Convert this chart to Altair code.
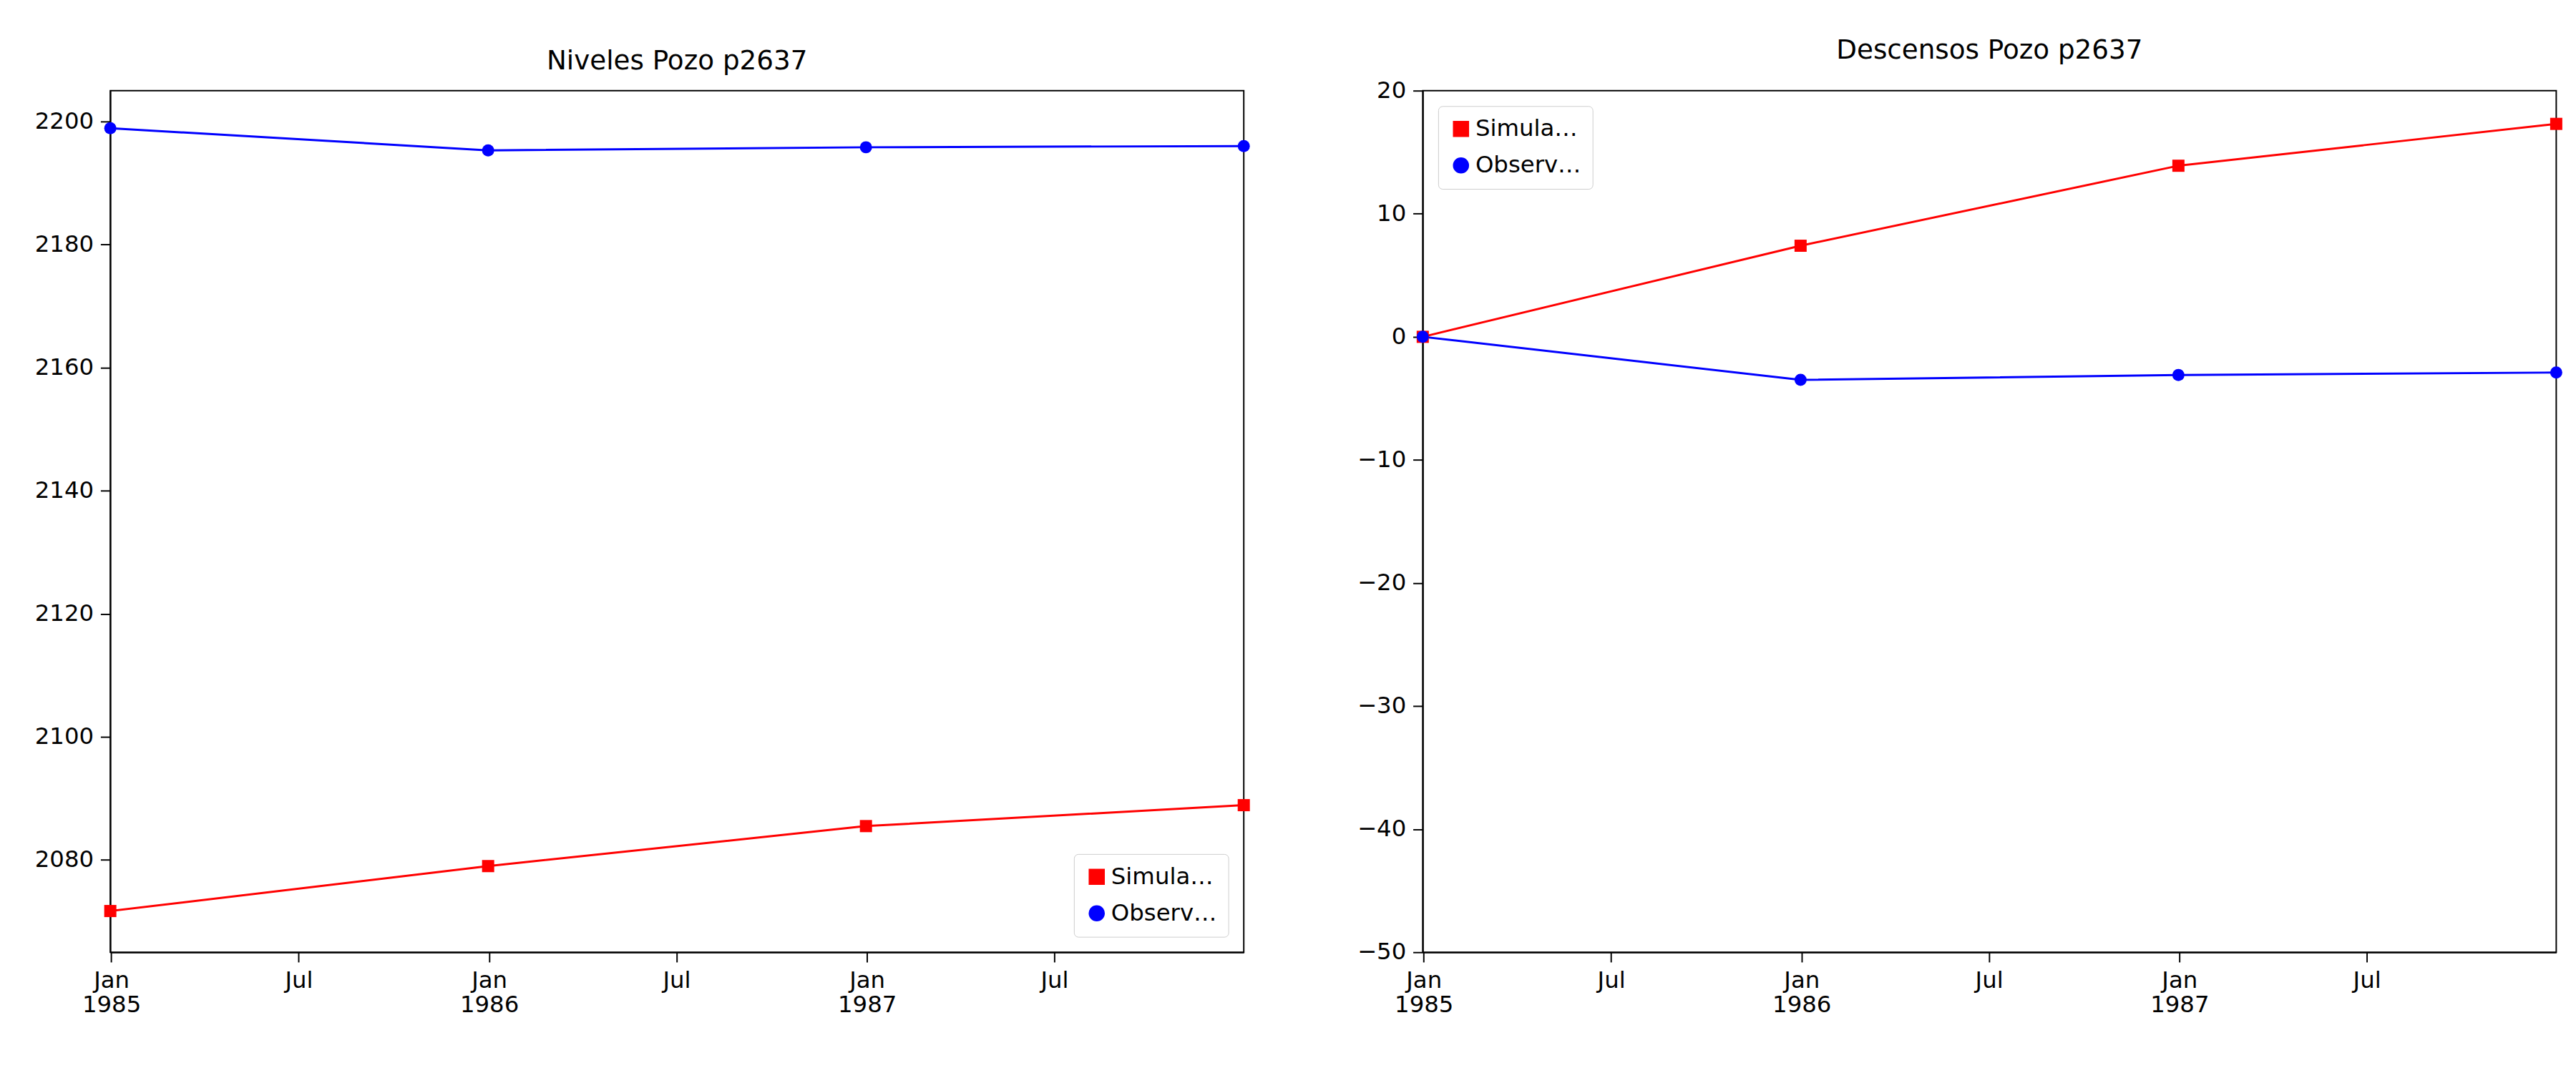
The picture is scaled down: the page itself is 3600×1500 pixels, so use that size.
import altair as alt
import pandas as pd

# ── data ─────────────────────────────────────────────────────────────
fechas = ["1984-12-31", "1985-12-31", "1986-12-31", "1987-12-31"]
niv_sim = [2071.7, 2079.0, 2085.5, 2088.9]
niv_obs = [2198.9, 2195.3, 2195.8, 2196.0]
des_sim = [0.0, 7.4, 13.9, 17.3]
des_obs = [0.0, -3.5, -3.1, -2.9]
series = ["Simulados", "Observados"]


def frame(sim, obs):
    rows = []
    for f, s, o in zip(fechas, sim, obs):
        rows.append({"fecha": f, "valor": s, "serie": "Simulados"})
        rows.append({"fecha": f, "valor": o, "serie": "Observados"})
    return pd.DataFrame(rows)


def dt(y, m, d):
    return alt.DateTime(year=y, month=m, date=d)


x_domain = [dt(1984, 12, 31), dt(1987, 12, 31)]
major = [dt(y, m, 1) for y in (1985, 1986, 1987) for m in (1, 7)]

FONT = "DejaVu Sans"
FS = 33
W, H = 1615, 1228


def panel(df, title, y_domain, y_ticks, legend_orient):
    color = alt.Color(
        "serie:N",
        scale=alt.Scale(domain=series, range=["red", "blue"]),
        legend=alt.Legend(
            title=None, orient=legend_orient, labelFontSize=FS, labelFont=FONT,
            symbolSize=400, symbolStrokeWidth=3, padding=16, rowPadding=18,
            strokeColor="#cccccc", fillColor="white", cornerRadius=6, offset=22,
        ),
    )
    shape = alt.Shape(
        "serie:N", scale=alt.Scale(domain=series, range=["square", "circle"]), legend=None
    )
    x = alt.X(
        "fecha:T",
        title=None,
        scale=alt.Scale(domain=x_domain),
        axis=alt.Axis(
            values=major, grid=False, labelFontSize=FS, labelFont=FONT,
            labelColor="black", tickColor="black", tickSize=14, tickWidth=2,
            domainColor="black", domainWidth=2, labelPadding=10, labelAlign="center",
            labelExpr="month(datum.value) == 0 ? ['Jan', '' + year(datum.value)] : 'Jul'",
        ),
    )
    y = alt.Y(
        "valor:Q",
        title=None,
        scale=alt.Scale(domain=y_domain, nice=False, zero=False),
        axis=alt.Axis(
            values=y_ticks, format="d", grid=False, labelFontSize=FS, labelFont=FONT,
            labelColor="black", tickColor="black", tickSize=14, tickWidth=2,
            domainColor="black", domainWidth=2, labelPadding=10,
        ),
    )
    line = alt.Chart(df).mark_line(strokeWidth=3).encode(x=x, y=y, color=color, detail="serie:N")
    pts = alt.Chart(df).mark_point(filled=True, size=300, opacity=1).encode(
        x=x, y=y, color=color, shape=shape
    )
    return alt.layer(line, pts).properties(
        width=W, height=H,
        view=alt.ViewConfig(stroke="black", strokeWidth=2),
        title=alt.TitleParams(title, fontSize=38, font=FONT, fontWeight="normal", offset=22),
    )


left = panel(frame(niv_sim, niv_obs), "Niveles Pozo p2637", [2065, 2205],
             [2080, 2100, 2120, 2140, 2160, 2180, 2200], "bottom-right")
right = panel(frame(des_sim, des_obs), "Descensos Pozo p2637", [-50, 20],
              [-50, -40, -30, -20, -10, 0, 10, 20], "top-left")

chart = (
    alt.hconcat(left, right, spacing=150)
    .resolve_scale(color="independent", shape="independent")
    .properties(padding={"left": 40, "top": 30, "right": 10, "bottom": 10})
    .configure_view(stroke="black", strokeWidth=2)
    .configure(background="white")
)

chart.save("out.html", embed_options={"renderer": "svg", "actions": False})
